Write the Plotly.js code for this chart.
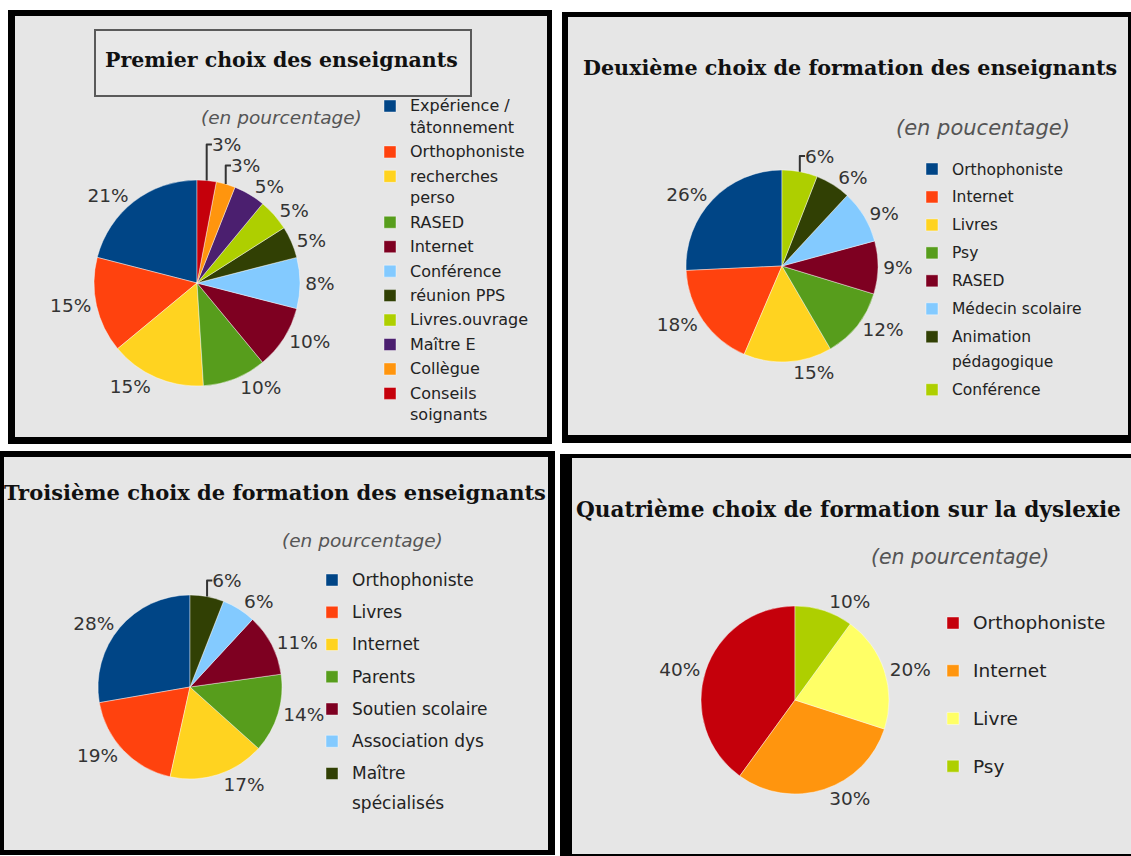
<!DOCTYPE html>
<html>
<head>
<meta charset="utf-8">
<script src="https://cdn.plot.ly/plotly-3.0.1.min.js"></script>
<style>html,body{margin:0;padding:0;background:#fff;overflow:hidden}</style>
</head>
<body>
<div id="chart" style="width:1131px;height:856px"></div>
<script>
// ---------- data ----------
const labels1 = ["Expérience /<br>tâtonnement", "Orthophoniste", "recherches<br>perso", "RASED", "Internet",
  "Conférence", "réunion PPS", "Livres.ouvrage", "Maître E", "Collègue", "Conseils<br>soignants"];
const values1 = [21, 15, 15, 10, 10, 8, 5, 5, 5, 3, 3];

const labels2 = ["Orthophoniste", "Internet", "Livres", "Psy", "RASED", "Médecin scolaire",
  "Animation<br>pédagogique", "Conférence"];
const values2 = [26, 18, 15, 12, 9, 9, 6, 6];

const labels3 = ["Orthophoniste", "Livres", "Internet", "Parents", "Soutien scolaire",
  "Association dys", "Maître<br>spécialisés"];
const values3 = [28, 19, 17, 14, 11, 6, 6];

const labels4 = ["Orthophoniste", "Internet", "Livre", "Psy"];
const values4 = [40, 30, 20, 10];

const titles = ["Premier choix des enseignants",
  "Deuxième choix de formation des enseignants",
  "Troisième choix de formation des enseignants",
  "Quatrième choix de formation sur la dyslexie"];
const subtitles = ["(en pourcentage)", "(en poucentage)", "(en pourcentage)", "(en pourcentage)"];

// ---------- styles ----------
const palette = ["#004586", "#ff420e", "#ffd320", "#579d1c", "#7e0021", "#83caff",
  "#314004", "#aecf00", "#4b1f6f", "#ff950e", "#c5000b"];
const palette4 = ["#c5000b", "#ff950e", "#ffff66", "#aecf00"];

const W = 1131, H = 856;
const px = x => x / W;
const py = y => 1 - y / H;
const SANS = "DejaVu Sans, Liberation Sans, Arial, sans-serif";
const SERIF = "DejaVu Serif, Liberation Serif, serif";

// panel geometry (pixels)
const panels = [
  {o: [8, 10, 552, 444], i: [15, 16, 547, 437]},
  {o: [562, 12, 1131, 443], i: [568, 17, 1128, 435]},
  {o: [0, 451, 555, 855], i: [4, 457, 548, 850]},
  {o: [560, 454, 1140, 860], i: [572, 458, 1140, 854]}
];
const pies = [
  {cx: 197, cy: 283, r: 103},
  {cx: 782, cy: 266, r: 96},
  {cx: 190, cy: 687, r: 92},
  {cx: 795, cy: 700, r: 94}
];
const legends = [
  {textX: 410, firstY: 106, lineFont: 16.5, textFont: 16},
  {textX: 952, firstY: 169, lineFont: 19.2, textFont: 15.5},
  {textX: 352, firstY: 580, lineFont: 22.5, textFont: 17},
  {textX: 973, firstY: 623, lineFont: 34.4, textFont: 18.5}
];
const titlePos = [
  {x: 281, y: 60, anchor: "center", size: 20.5},
  {x: 850, y: 68, anchor: "center", size: 20.7},
  {x: 275, y: 492, anchor: "center", size: 21},
  {x: 574, y: 509, anchor: "left", size: 21.6}
];
const subPos = [
  {x: 281, y: 118, size: 18.5},
  {x: 983, y: 128, size: 21},
  {x: 362, y: 540, size: 18.5},
  {x: 960, y: 557, size: 20.5}
];

function styleLabel(lbl, lg) {
  const L = lg.lineFont * 1.3;
  const shift = (0.3 * L - 0.365 * lg.textFont).toFixed(1);
  return lbl.split("<br>").map(s =>
    `<span style="font-size:${lg.textFont}px;baseline-shift:${shift}px">${s}</span>`).join("<br>");
}

const dataSets = [
  {labels: labels1, values: values1, colors: palette},
  {labels: labels2, values: values2, colors: palette},
  {labels: labels3, values: values3, colors: palette},
  {labels: labels4, values: values4, colors: palette4}
];

const legendNames = ["legend", "legend2", "legend3", "legend4"];

const traces = dataSets.map((ds, k) => {
  const p = pies[k];
  const total = ds.values.reduce((a, b) => a + b, 0);
  return {
    type: "pie",
    labels: ds.labels.map(l => styleLabel(l, legends[k])),
    values: ds.values,
    sort: false,
    direction: "counterclockwise",
    // first slice starts at 12 o'clock and runs counterclockwise
    rotation: -360 * ds.values[0] / total,
    marker: {colors: ds.colors, line: {color: "rgba(255,255,255,0.7)", width: 0.6}},
    textposition: "outside",
    texttemplate: "%{value}%",
    outsidetextfont: {family: SANS, size: 18.5, color: "#333"},
    hoverinfo: "skip",
    showlegend: true,
    legend: legendNames[k],
    domain: {
      x: [px(p.cx - p.r), px(p.cx + p.r)],
      y: [py(p.cy + p.r), py(p.cy - p.r)]
    }
  };
});

const shapes = [];
panels.forEach(pn => {
  shapes.push({type: "rect", xref: "paper", yref: "paper", layer: "below",
    x0: px(pn.o[0]), x1: px(pn.o[2]), y0: py(pn.o[1]), y1: py(pn.o[3]),
    fillcolor: "#000", line: {width: 0}});
  shapes.push({type: "rect", xref: "paper", yref: "paper", layer: "below",
    x0: px(pn.i[0]), x1: px(pn.i[2]), y0: py(pn.i[1]), y1: py(pn.i[3]),
    fillcolor: "#e6e6e6", line: {width: 0}});
});
// title box of first panel
shapes.push({type: "rect", xref: "paper", yref: "paper", layer: "below",
  x0: px(95), x1: px(471), y0: py(30), y1: py(96),
  fillcolor: "#e8e8e8", line: {color: "#5a5a5a", width: 2}});

const annotations = [];
titles.forEach((t, k) => {
  const tp = titlePos[k];
  annotations.push({text: t, xref: "paper", yref: "paper", x: px(tp.x), y: py(tp.y),
    xanchor: tp.anchor, yanchor: "middle", showarrow: false,
    font: {family: SERIF, size: tp.size, color: "#111", weight: "bold"}});
});
subtitles.forEach((s, k) => {
  const sp = subPos[k];
  annotations.push({text: s, xref: "paper", yref: "paper", x: px(sp.x), y: py(sp.y),
    xanchor: "center", yanchor: "middle", showarrow: false,
    font: {family: SANS, size: sp.size, color: "#555", style: "italic"}});
});

const layout = {
  width: W, height: H,
  margin: {l: 0, r: 0, t: 0, b: 0},
  paper_bgcolor: "#ffffff",
  plot_bgcolor: "rgba(0,0,0,0)",
  shapes: shapes,
  annotations: annotations,
  showlegend: true
};
legends.forEach((lg, k) => {
  const L = lg.lineFont * 1.3;
  const top = lg.firstY - 6.5 - L / 2;
  layout[legendNames[k]] = {
    x: px(lg.textX - 40), y: py(top), xanchor: "left", yanchor: "top",
    xref: "paper", yref: "paper",
    bgcolor: "rgba(0,0,0,0)", borderwidth: 0,
    itemwidth: 30, traceorder: "normal", valign: "top",
    font: {family: SANS, size: lg.lineFont, color: "#222"},
    itemclick: false, itemdoubleclick: false
  };
});

Plotly.newPlot("chart", traces, layout, {staticPlot: true, displayModeBar: false});
</script>
</body>
</html>
